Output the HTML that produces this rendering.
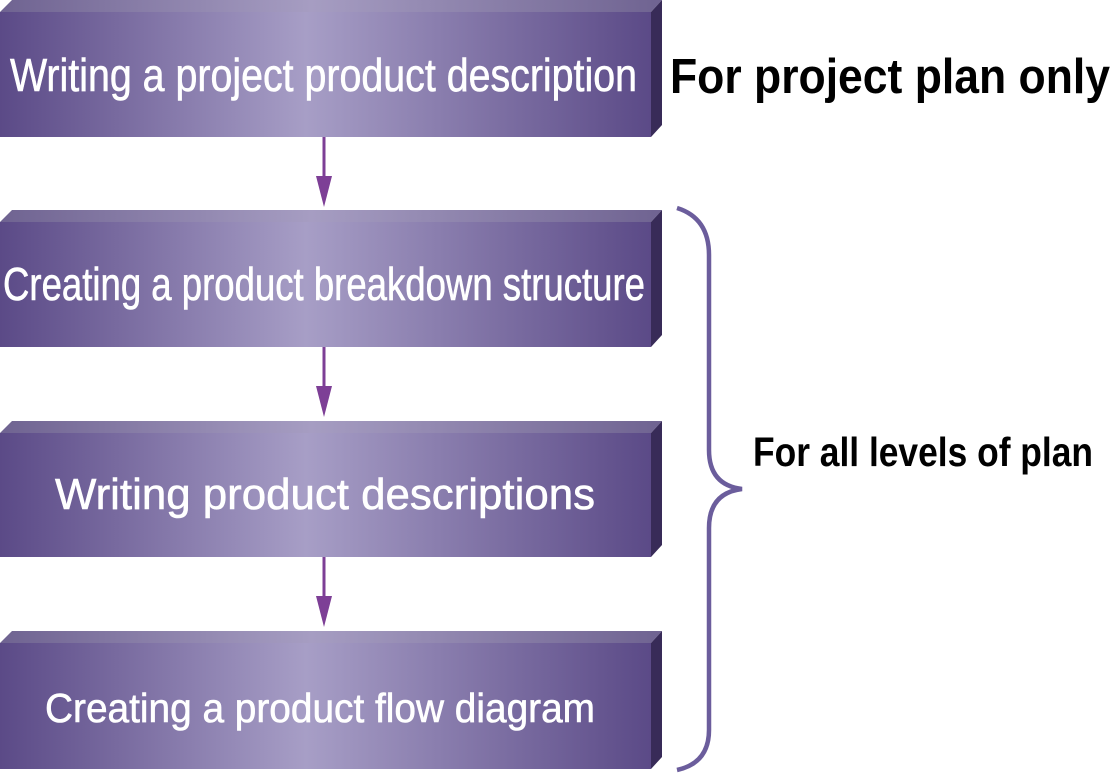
<!DOCTYPE html>
<html><head><meta charset="utf-8"><style>
html,body{margin:0;padding:0;background:#fff;}
svg{display:block;}
</style></head><body>
<svg width="1120" height="773" viewBox="0 0 1120 773" xmlns="http://www.w3.org/2000/svg">
<defs>
<linearGradient id="g" x1="0" y1="0" x2="1" y2="0">
<stop offset="0" stop-color="#5b4a87"/>
<stop offset="0.47" stop-color="#a79ec6"/>
<stop offset="1" stop-color="#5b4a87"/>
</linearGradient>
<linearGradient id="t" x1="0" y1="0" x2="1" y2="0">
<stop offset="0" stop-color="#6f6391"/>
<stop offset="0.47" stop-color="#a69dc2"/>
<stop offset="1" stop-color="#6f6391"/>
</linearGradient>
</defs>
<g>
<polygon points="12,0 662,0 651,12 0,12" fill="url(#t)"/>
<rect x="0" y="12" width="651" height="125" fill="url(#g)"/>
<polygon points="651,12 662,0 662,125 651,137" fill="#382b58"/>
</g>
<g transform="translate(0,210)">
<polygon points="12,0 662,0 651,12 0,12" fill="url(#t)"/>
<rect x="0" y="12" width="651" height="125" fill="url(#g)"/>
<polygon points="651,12 662,0 662,125 651,137" fill="#382b58"/>
</g>
<g transform="translate(0,421)">
<polygon points="12,0 662,0 651,12 0,12" fill="url(#t)"/>
<rect x="0" y="12" width="651" height="124" fill="url(#g)"/>
<polygon points="651,12 662,0 662,124 651,136" fill="#382b58"/>
</g>
<g transform="translate(0,631)">
<polygon points="12,0 662,0 651,12 0,12" fill="url(#t)"/>
<rect x="0" y="12" width="651" height="126" fill="url(#g)"/>
<polygon points="651,12 662,0 662,126 651,138" fill="#382b58"/>
</g>
<g stroke="#7d3f96" stroke-width="3" fill="#7d3f96">
<line x1="324" y1="137" x2="324" y2="180"/>
<polygon points="316,176 332,176 324,207" stroke="none"/>
<line x1="324" y1="347" x2="324" y2="390"/>
<polygon points="316,386 332,386 324,417" stroke="none"/>
<line x1="324" y1="557" x2="324" y2="600"/>
<polygon points="316,596 332,596 324,627" stroke="none"/>
</g>
<path d="M677,208 Q709,218 709,255 L709,450 Q709,485 742,489 Q709,493 709,528 L709,730 Q709,763 677,770" fill="none" stroke="#6b5d9c" stroke-width="4.5"/>
<g font-family="Liberation Sans, sans-serif" fill="#fff" stroke="#fff" stroke-width="0.6">
<text x="10" y="91" font-size="46" textLength="627" lengthAdjust="spacingAndGlyphs">Writing a project product description</text>
<text x="3" y="300" font-size="46" textLength="642" lengthAdjust="spacingAndGlyphs">Creating a product breakdown structure</text>
<text x="55" y="509" font-size="44" textLength="540" lengthAdjust="spacingAndGlyphs">Writing product descriptions</text>
<text x="45" y="722" font-size="41" textLength="550" lengthAdjust="spacingAndGlyphs">Creating a product flow diagram</text>
</g>
<g font-family="Liberation Sans, sans-serif" fill="#000" font-weight="bold">
<text x="670" y="93" font-size="49" textLength="440" lengthAdjust="spacingAndGlyphs">For project plan only</text>
<text x="753" y="466" font-size="41" textLength="340" lengthAdjust="spacingAndGlyphs">For all levels of plan</text>
</g>
</svg>
</body></html>
